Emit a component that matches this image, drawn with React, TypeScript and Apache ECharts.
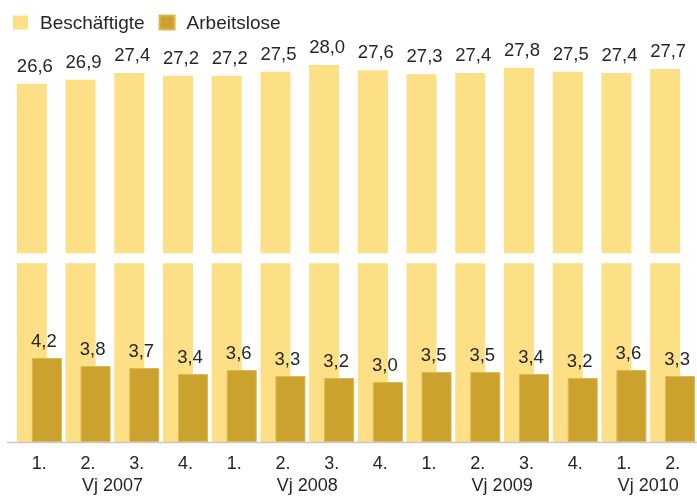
import React, { useEffect, useRef } from "react";
import * as echarts from "echarts";

const quarters = ["1.", "2.", "3.", "4.", "1.", "2.", "3.", "4.", "1.", "2.", "3.", "4.", "1.", "2."];
const quarterYears = ["Vj 2007", "Vj 2007", "Vj 2007", "Vj 2007", "Vj 2008", "Vj 2008", "Vj 2008", "Vj 2008", "Vj 2009", "Vj 2009", "Vj 2009", "Vj 2009", "Vj 2010", "Vj 2010"];
const employed = [26.6, 26.9, 27.4, 27.2, 27.2, 27.5, 28.0, 27.6, 27.3, 27.4, 27.8, 27.5, 27.4, 27.7];
const unemployed = [4.2, 3.8, 3.7, 3.4, 3.6, 3.3, 3.2, 3.0, 3.5, 3.5, 3.4, 3.2, 3.6, 3.3];
const seriesNames = ["Beschäftigte", "Arbeitslose"];

const fmt = (v: number) => v.toFixed(1).replace(".", ",");

export default function App() {
  const ref = useRef<HTMLDivElement>(null);
  useEffect(() => {
    if (!ref.current) return;
    const chart = echarts.init(ref.current, null, { renderer: "svg" });

    // year label positions: centre of each year's quarters
    const yearNames: string[] = [];
    quarterYears.forEach((y) => {
      if (yearNames.indexOf(y) < 0) yearNames.push(y);
    });
    const yearCenters = yearNames.map((y) => {
      const idx = quarterYears.map((q, i) => (q === y ? i : -1)).filter((i) => i >= 0);
      return idx.reduce((a, b) => a + b, 0) / idx.length;
    });

    const font = "'Liberation Sans', Arial, sans-serif";
    const textColor = "#262626";

    chart.setOption({
      animation: false,
      textStyle: { fontFamily: font },
      legend: {
        left: 8,
        top: 8,
        itemWidth: 15,
        itemHeight: 14,
        itemGap: 14,
        icon: "rect",
        data: seriesNames,
        textStyle: { fontSize: 19, color: textColor, fontFamily: font, padding: [0, 0, 0, 7] },
      },
      grid: { left: 15, right: -7, top: 38, bottom: 55, containLabel: false },
      xAxis: [
        {
          type: "category",
          data: quarters,
          axisLine: { show: false },
          axisTick: { show: false },
          axisLabel: { color: textColor, fontSize: 18, margin: 12, fontFamily: font },
        },
        {
          type: "value",
          min: -0.5,
          max: quarters.length - 0.5,
          position: "bottom",
          axisLine: { show: false },
          axisTick: { show: false },
          splitLine: { show: false },
          axisLabel: {
            color: textColor,
            fontSize: 18,
            margin: 34,
            fontFamily: font,
            customValues: yearCenters,
            formatter: (v: number) => {
              const k = yearCenters.findIndex((c) => Math.abs(c - v) < 1e-6);
              return k >= 0 ? yearNames[k] : "";
            },
          },
        },
      ],
      yAxis: [
        { type: "value", min: 0, max: 30, show: false, splitLine: { show: false } },
        { type: "value", min: 0, max: 20.2, show: false, splitLine: { show: false } },
      ],
      series: [
        {
          name: seriesNames[0],
          type: "bar",
          xAxisIndex: 0,
          yAxisIndex: 0,
          data: employed,
          barWidth: 30,
          barGap: "-50%",
          itemStyle: { color: "#fddf85" },
          label: {
            show: true,
            position: "top",
            distance: 9,
            offset: [3, 0],
            fontSize: 18.5,
            color: textColor,
            fontFamily: font,
            formatter: (p: any) => fmt(p.value),
          },
        },
        {
          name: seriesNames[1],
          type: "bar",
          xAxisIndex: 0,
          yAxisIndex: 1,
          data: unemployed,
          barWidth: 30,
          barGap: "-50%",
          itemStyle: { color: "#cba22e", borderColor: "#dcb850", borderWidth: 1 },
          label: {
            show: true,
            position: "top",
            distance: 8,
            offset: [-3, 0],
            fontSize: 18.5,
            color: textColor,
            fontFamily: font,
            formatter: (p: any) => fmt(p.value),
          },
        },
      ],
      graphic: [
        {
          type: "rect",
          z: 100,
          silent: true,
          shape: { x: 0, y: 253.3, width: 697, height: 10 },
          style: { fill: "#ffffff" },
        },
        {
          type: "line",
          z: 100,
          silent: true,
          shape: { x1: 7, y1: 442.5, x2: 697, y2: 442.5 },
          style: { stroke: "#c8c8c8", lineWidth: 1.5 },
        },
      ],
    });
    return () => chart.dispose();
  }, []);
  return (
    <div
      ref={ref}
      style={{ position: "fixed", left: 0, top: 0, width: 697, height: 497 }}
    />
  );
}
